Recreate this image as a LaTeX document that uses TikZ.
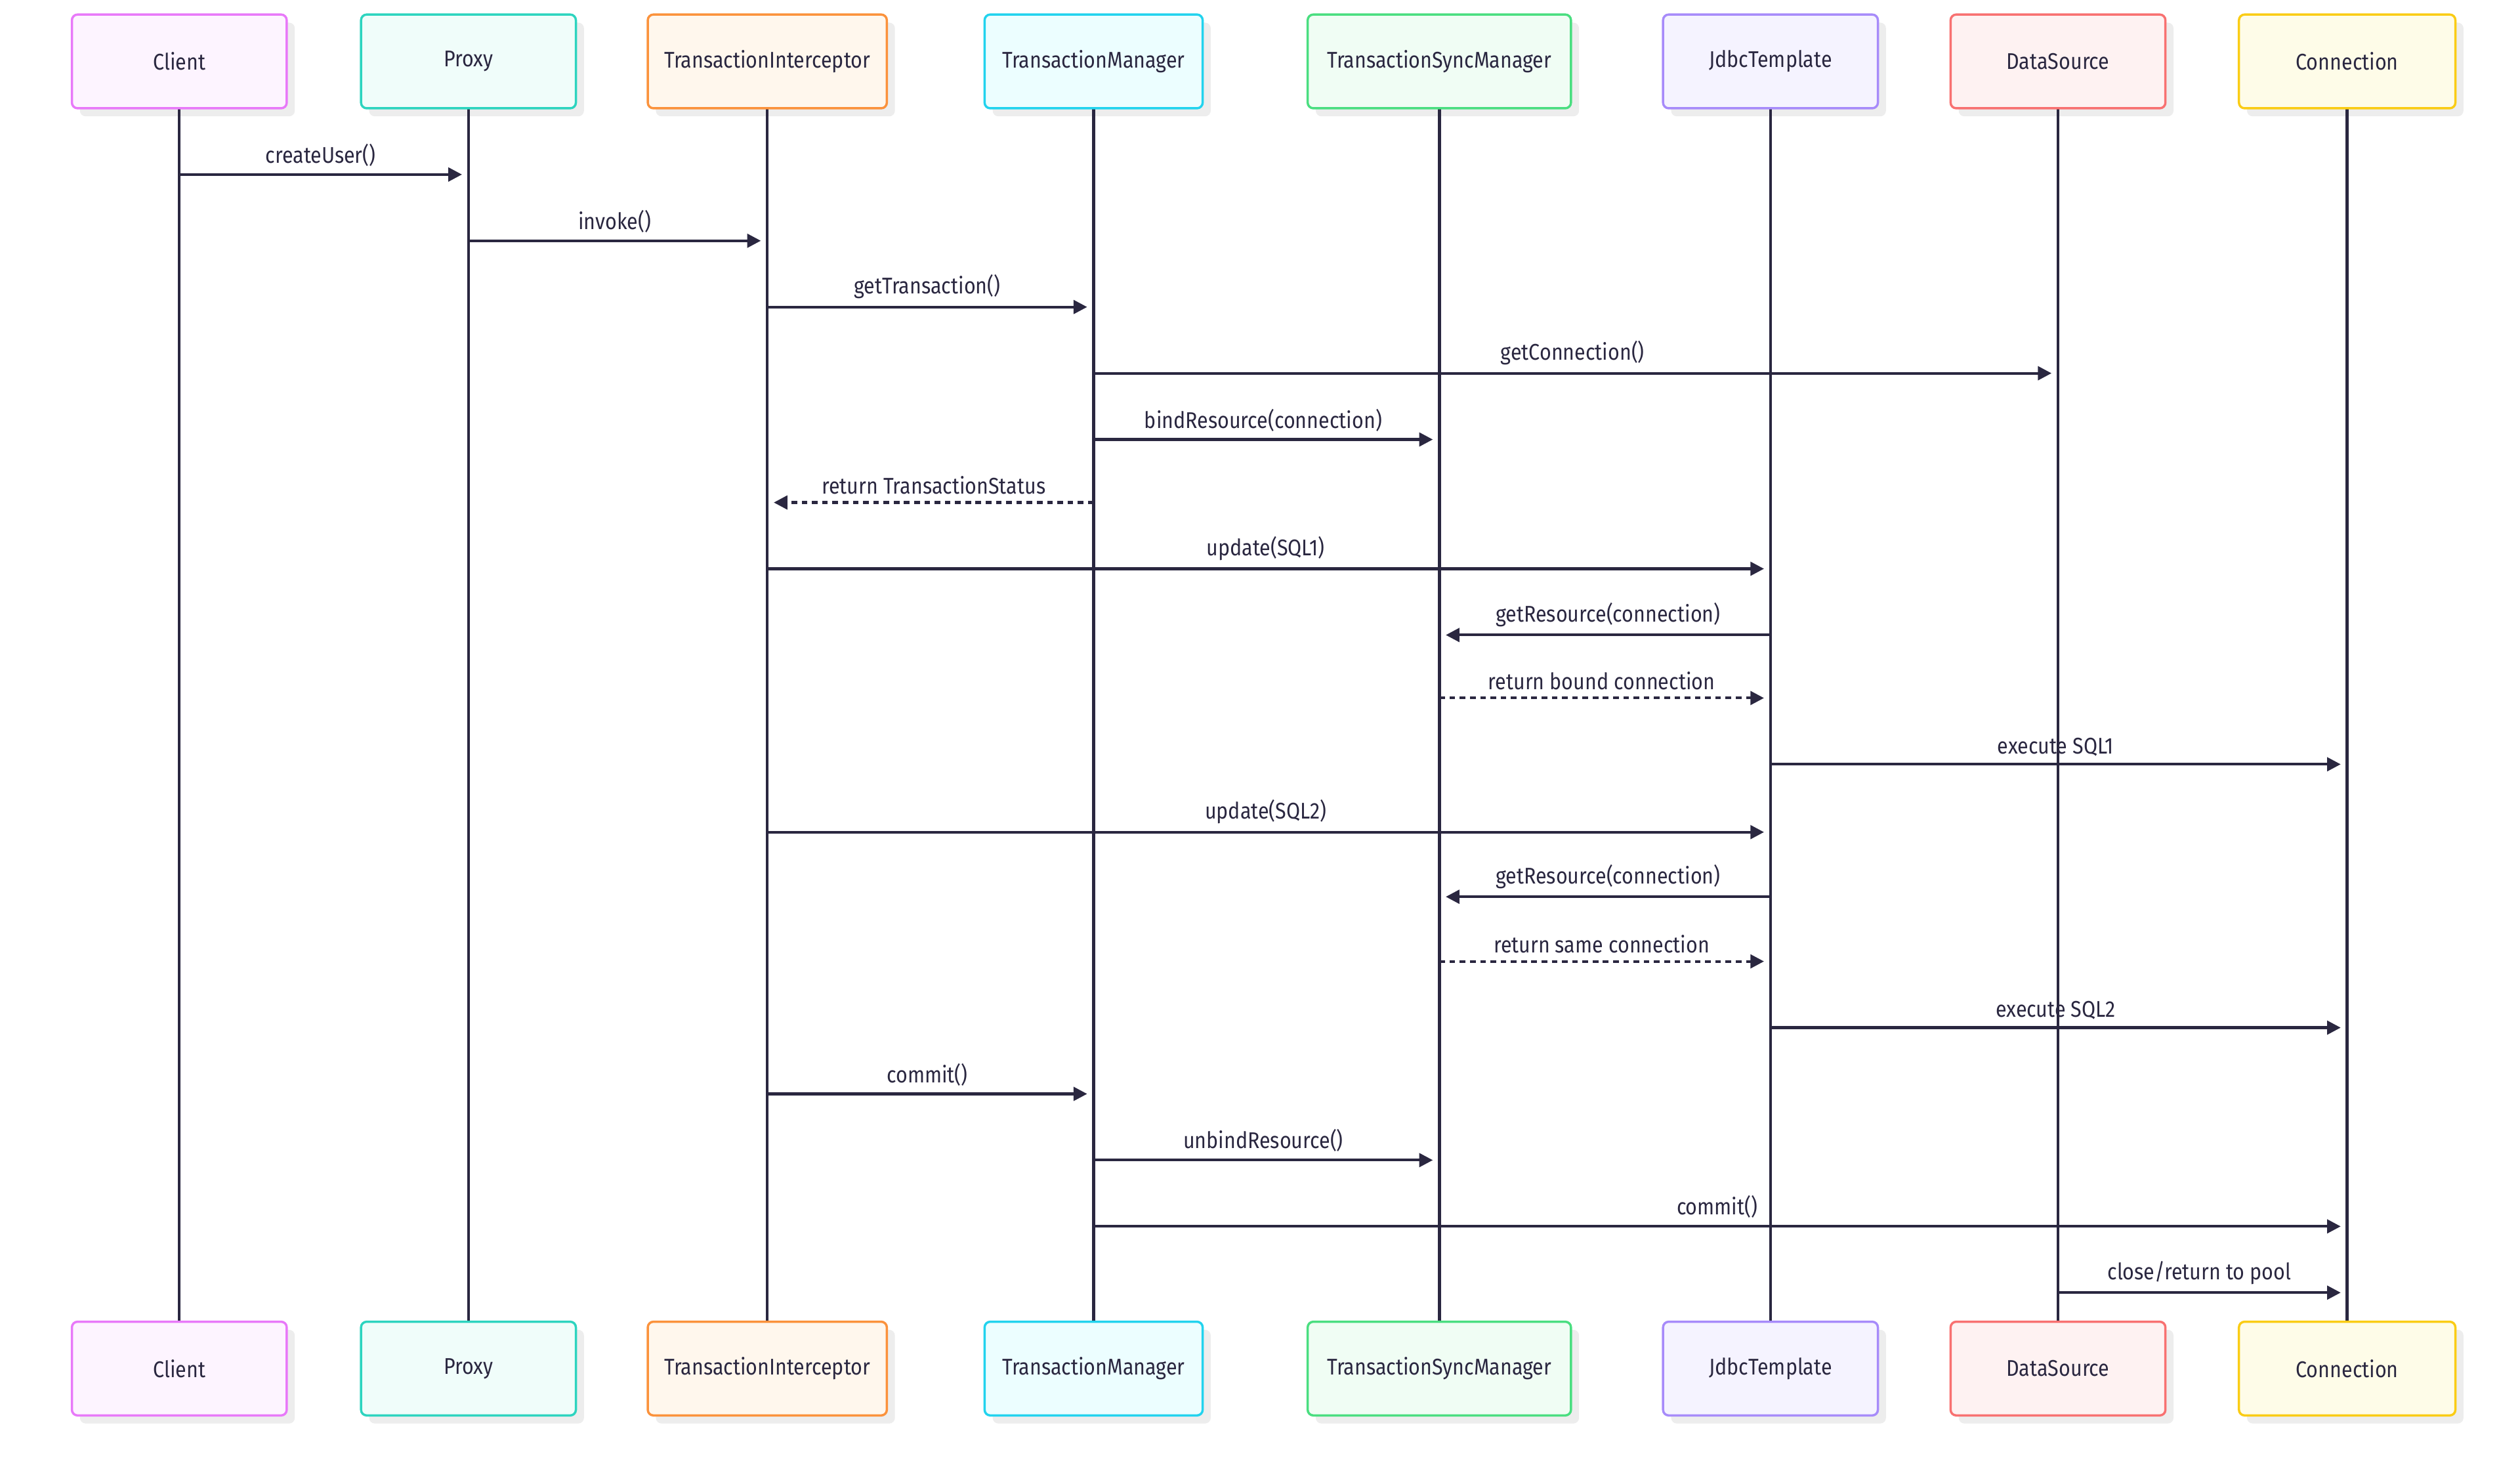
\documentclass[tikz,border=0pt]{standalone}
\usepackage{fontspec}
\setmainfont{Fira Sans}[FakeStretch=0.88]
\usetikzlibrary{arrows.meta}
\definecolor{ink}{HTML}{2A2740}
\begin{document}
\begin{tikzpicture}[x=0.025cm,y=-0.025cm,
  every node/.style={font=\fontsize{10}{12}\selectfont,text=ink},
  box/.style={draw=#1,line width=1pt,rounded corners=2.5pt,minimum height=1.45cm,inner sep=0pt},
  life/.style={ink,line width=1.3pt},
  msg/.style={ink,line width=1.2pt,-{Triangle[length=6pt,width=6pt]}},
  ret/.style={msg,dash pattern=on 2.5pt off 2pt},
  lbl/.style={above=2pt,inner sep=1pt}]
\useasboundingbox (0,0) rectangle (1560,910);
\def\parts{{"Client",111,133,"E879F9","FDF4FF"},{"Proxy",290,133,"2DD4BF","F0FDFA"}}
\newcommand\mkpart[6]{%
  \definecolor{b#1}{HTML}{#5}\definecolor{f#1}{HTML}{#6}%
  \fill[black!7,rounded corners=2.5pt] (#2-#3/2+5,14) rectangle (#2+#3/2+5,72);
  \fill[black!7,rounded corners=2.5pt] (#2-#3/2+5,823) rectangle (#2+#3/2+5,881);
  \draw[life] (#2,67) -- (#2,818);
  \node[box=b#1,fill=f#1,minimum width=#3*0.025cm] (#1t) at (#2,38) {#4};
  \node[box=b#1,fill=f#1,minimum width=#3*0.025cm] (#1b) at (#2,847) {#4};
  \coordinate (#1) at (#2,0);}
\mkpart{cl}{111}{133}{Client}{E879F9}{FDF4FF}
\mkpart{px}{290}{133}{Proxy}{2DD4BF}{F0FDFA}
\mkpart{ti}{475}{148}{TransactionInterceptor}{FB923C}{FFF7ED}
\mkpart{tm}{677}{135}{TransactionManager}{22D3EE}{ECFEFF}
\mkpart{ts}{891}{163}{TransactionSyncManager}{4ADE80}{F0FDF4}
\mkpart{jt}{1096}{133}{JdbcTemplate}{A78BFA}{F5F3FF}
\mkpart{ds}{1274}{133}{DataSource}{F87171}{FEF2F2}
\mkpart{cn}{1453}{134}{Connection}{FACC15}{FEFCE8}
\newcommand\msg[5][msg]{%
  \coordinate (s) at ([yshift=-#4*0.025cm]#2);
  \coordinate (e) at ([yshift=-#4*0.025cm]#3);
  \draw[#1] (s) -- ($(e)!4*0.025cm!(s)$) node[midway,lbl] {#5};}
\usetikzlibrary{calc}
\msg{cl}{px}{108}{createUser()}
\msg{px}{ti}{149}{invoke()}
\msg{ti}{tm}{190}{getTransaction()}
\msg{tm}{ds}{231}{getConnection()}
\msg{tm}{ts}{272}{bindResource(connection)}
\msg[ret]{tm}{ti}{311}{return TransactionStatus}
\msg{ti}{jt}{352}{update(SQL1)}
\msg{jt}{ts}{393}{getResource(connection)}
\msg[ret]{ts}{jt}{432}{return bound connection}
\msg{jt}{cn}{473}{execute SQL1}
\msg{ti}{jt}{515}{update(SQL2)}
\msg{jt}{ts}{555}{getResource(connection)}
\msg[ret]{ts}{jt}{595}{return same connection}
\msg{jt}{cn}{636}{execute SQL2}
\msg{ti}{tm}{677}{commit()}
\msg{tm}{ts}{718}{unbindResource()}
\msg{tm}{cn}{759}{commit()}
\msg{ds}{cn}{800}{close/return to pool}
\end{tikzpicture}
\end{document}
